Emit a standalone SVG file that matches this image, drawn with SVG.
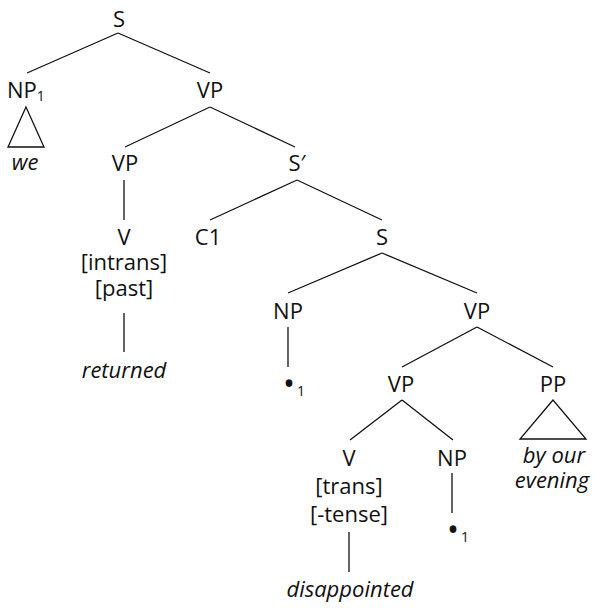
<svg xmlns="http://www.w3.org/2000/svg" width="595" height="608" viewBox="0 0 595 608">
<style>
text{font-family:"Open Sans","Noto Sans","Liberation Sans",sans-serif;font-size:22px;fill:#111;text-anchor:middle}
.it{font-style:italic}
.sub{font-size:14px}
.dot{font-size:32px}
.st{text-anchor:start}
line,polygon{stroke:#111;stroke-width:1.3;fill:none}
</style>
<rect width="595" height="608" fill="#fff"/>
<g id="connectors">
<line x1="118" y1="33" x2="27" y2="73"/>
<line x1="118" y1="33" x2="210" y2="73"/>
<line x1="210" y1="107" x2="125" y2="147"/>
<line x1="210" y1="107" x2="295" y2="147"/>
<line x1="124" y1="180" x2="124" y2="220"/>
<line x1="124" y1="313" x2="124" y2="352"/>
<line x1="297" y1="180" x2="210" y2="220"/>
<line x1="297" y1="180" x2="382" y2="220"/>
<line x1="382" y1="253" x2="288" y2="293"/>
<line x1="382" y1="253" x2="477" y2="293"/>
<line x1="288" y1="327" x2="288" y2="367"/>
<line x1="477" y1="327" x2="402" y2="367"/>
<line x1="477" y1="327" x2="553" y2="367"/>
<line x1="402" y1="400" x2="350" y2="440"/>
<line x1="402" y1="400" x2="453" y2="440"/>
<line x1="349" y1="532" x2="349" y2="572"/>
<line x1="452" y1="473" x2="452" y2="513"/>
<polygon points="26,107 8,147 44,147"/>
<polygon points="553,400 520,439 586,439"/>
</g>
<g id="S_root"><text x="119" y="27">S</text></g>
<g id="NP1"><text x="7" y="98" class="st">NP<tspan class="sub" dy="3">1</tspan></text></g>
<g id="we"><text x="25" y="170" class="it">we</text></g>
<g id="VP_top"><text x="210" y="98">VP</text></g>
<g id="VP_left"><text x="125" y="171">VP</text></g>
<g id="Sbar"><text x="297" y="171">S′</text></g>
<g id="V_intrans">
<text x="124" y="245">V<tspan x="124" dy="25">[intrans]</tspan><tspan x="124" dy="26">[past]</tspan></text>
</g>
<g id="returned"><text x="124" y="378" class="it">returned</text></g>
<g id="C1"><text x="208" y="245">C1</text></g>
<g id="S_embedded"><text x="382" y="245">S</text></g>
<g id="NP_subj"><text x="288" y="319">NP</text></g>
<g id="VP_emb"><text x="477" y="319">VP</text></g>
<g id="trace1"><text x="283" y="395" class="st"><tspan class="dot">•</tspan><tspan class="sub" dx="2" dy="1">1</tspan></text></g>
<g id="VP_inner"><text x="401" y="392">VP</text></g>
<g id="PP"><text x="553" y="392">PP</text></g>
<g id="pp_words">
<text x="554" y="463" class="it">by our<tspan x="552" dy="25">evening</tspan></text>
</g>
<g id="V_trans">
<text x="349" y="466">V<tspan x="349" dy="28">[trans]</tspan><tspan x="349" dy="28">[-tense]</tspan></text>
</g>
<g id="NP_obj"><text x="452" y="466">NP</text></g>
<g id="trace2"><text x="447" y="541" class="st"><tspan class="dot">•</tspan><tspan class="sub" dx="2" dy="1">1</tspan></text></g>
<g id="disappointed"><text x="350" y="597" class="it">disappointed</text></g>
</svg>
